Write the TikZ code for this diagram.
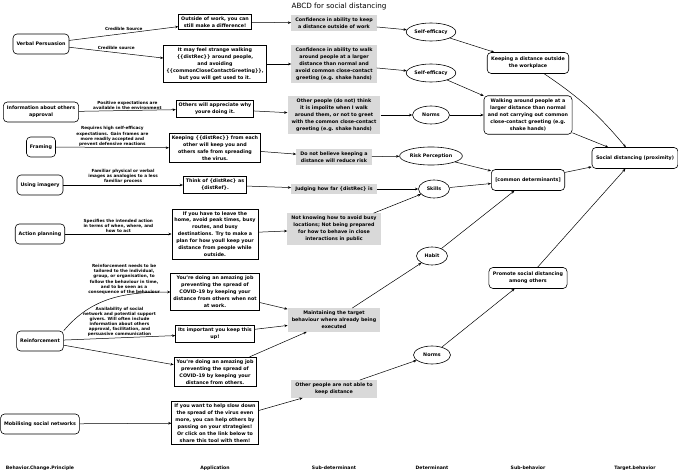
\documentclass[tikz,border=0pt]{standalone}
\usepackage{fontspec}
\setmainfont{DejaVu Sans}
\usetikzlibrary{arrows.meta,shapes.geometric}

\begin{document}
\begin{tikzpicture}[x=1pt,y=-1pt,
  font=\fontsize{4.8}{6.9}\selectfont\bfseries,
  principle/.style={draw=black,line width=0.6pt,rounded corners=4pt,align=center,inner xsep=3.5pt,minimum height=20pt},
  app/.style={draw=black,line width=0.8pt,align=center,inner sep=2.5pt},
  subdet/.style={fill=gray!30,align=center,inner xsep=4pt,inner ysep=3pt},
  det/.style={draw=black,line width=0.6pt,ellipse,inner sep=1pt,minimum width=31pt,minimum height=18pt},
  subbeh/.style={draw=black,line width=0.6pt,rounded corners=4pt,align=center,inner xsep=4pt,minimum height=21pt},
  lbl/.style={font=\fontsize{4.2}{5.1}\selectfont\bfseries,align=center,above,inner sep=1pt},
  colhead/.style={font=\fontsize{4.6}{6}\selectfont\bfseries},
  arr/.style={-{Stealth[length=3.2pt,width=2.6pt]},line width=0.5pt}]
  \useasboundingbox (0,0) rectangle (678,473);

  \node[font=\fontsize{7.2}{8}\selectfont\mdseries] (title) at (339,7) {ABCD for social distancing};

  % behaviour change principles
  \node[principle] (vp) at (41,44) {Verbal Persuasion};
  \node[principle] (info) at (41,112) {Information about others\\approval};
  \node[principle] (fram) at (41,147) {Framing};
  \node[principle] (imag) at (40,185) {Using imagery};
  \node[principle] (plan) at (40,234) {Action planning};
  \node[principle] (reinf) at (40,341) {Reinforcement};
  \node[principle] (mobil) at (40,424) {Mobilising social networks};

  % applications
  \node[app] (a1) at (215,22) {Outside of work, you can\\still make a difference!};
  \node[app] (a2) at (215,64) {It may feel strange walking\\\{\{distRec\}\} around people,\\and avoiding\\\{\{commonCloseContactGreeting\}\},\\but you will get used to it.};
  \node[app] (a3) at (215,109) {Others will appreciate why\\youre doing it.};
  \node[app] (a4) at (215,148) {Keeping \{\{distRec\}\} from each\\other will keep you and\\others safe from spreading\\the virus.};
  \node[app] (a5) at (215,185) {Think of \{distRec\} as\\\{distRef\}.};
  \node[app] (a6) at (215,234) {If you have to leave the\\home, avoid peak times, busy\\routes, and busy\\destinations. Try to make a\\plan for how youll keep your\\distance from people while\\outside.};
  \node[app] (a7) at (215,292) {You're doing an amazing job\\preventing the spread of\\COVID-19 by keeping your\\distance from others when not\\at work.};
  \node[app] (a8) at (215,334) {Its important you keep this\\up!};
  \node[app] (a9) at (215,372) {You're doing an amazing job\\preventing the spread of\\COVID-19 by keeping your\\distance from others.};
  \node[app] (a10) at (215,423) {If you want to help slow down\\the spread of the virus even\\more, you can help others by\\passing on your strategies!\\Or click on the link below to\\share this tool with them!};

  % sub-determinants
  \node[subdet] (s1) at (334,23) {Confidence in ability to keep\\a distance outside of work};
  \node[subdet] (s2) at (334,64) {Confidence in ability to walk\\around people at a larger\\distance than normal and\\avoid common close-contact\\greeting (e.g. shake hands)};
  \node[subdet] (s3) at (334,115) {Other people (do not) think\\it is impolite when I walk\\around them, or not to greet\\with the common close-contact\\greeting (e.g. shake hands)};
  \node[subdet] (s4) at (334,157) {Do not believe keeping a\\distance will reduce risk};
  \node[subdet] (s5) at (334,189) {Judging how far \{distRec\} is};
  \node[subdet] (s6) at (334,229) {Not knowing how to avoid busy\\locations; Not being prepared\\for how to behave in close\\interactions in public};
  \node[subdet] (s7) at (334,320) {Maintaining the target\\behaviour where already being\\executed};
  \node[subdet] (s8) at (334,389) {Other people are not able to\\keep distance};

  % determinants
  \node[det] (d1) at (431,32) {Self-efficacy};
  \node[det] (d2) at (431,73) {Self-efficacy};
  \node[det,minimum width=37pt] (d3) at (431,115) {Norms};
  \node[det] (d4) at (431,156) {Risk Perception};
  \node[det] (d5) at (434,189) {Skills};
  \node[det] (d6) at (432,256) {Habit};
  \node[det,minimum width=37pt] (d7) at (432,355) {Norms};

  % sub-behaviours and target
  \node[subbeh] (b1) at (528,63) {Keeping a distance outside\\the workplace};
  \node[subbeh] (b2) at (528,115) {Walking around people at a\\larger distance than normal\\and not carrying out common\\close-contact greeting (e.g.\\shake hands)};
  \node[subbeh] (b3) at (528,180) {[common determinants]};
  \node[subbeh] (b4) at (528,278) {Promote social distancing\\among others};
  \node[subbeh] (tb) at (635,158) {Social distancing (proximity)};

  % column headings
  \node[colhead] (h1) at (40,468) {Behavior.Change.Principle};
  \node[colhead] (h2) at (215,468) {Application};
  \node[colhead] (h3) at (334,468) {Sub-determinant};
  \node[colhead] (h4) at (432,468) {Determinant};
  \node[colhead] (h5) at (528,468) {Sub-behavior};
  \node[colhead] (h6) at (635,468) {Target.behavior};

  % principle -> application
  \path[arr] (vp) edge node[lbl,yshift=2pt] {Credible Source} (a1);
  \path[arr] (vp) edge node[lbl,yshift=2pt] {Credible source} (a2);
  \path[arr] (info) edge node[lbl] {Positive expectations are\\available in the environment} (a3);
  \path[arr] (fram) edge node[lbl] {Requires high self-efficacy\\expectations. Gain frames are\\more readily accepted and\\prevent defensive reactions} (a4);
  \path[arr] (imag) edge node[lbl] {Familiar physical or verbal\\images as analogies to a less\\familiar process} (a5);
  \path[arr] (plan) edge node[lbl] {Specifies the intended action\\in terms of when, where, and\\how to act} (a6);
  \path[arr] (reinf.north east) edge[out=50,in=180] node[lbl,pos=0.62] {Reinforcement needs to be\\tailored to the individual,\\group, or organisation, to\\follow the behaviour in time,\\and to be seen as a\\consequence of the behaviour} (a7);
  \path[arr] (reinf) edge node[lbl] {Availability of social\\network and potential support\\givers. Will often include\\information about others\\approval, facilitation, and\\persuasive communication} (a8);
  \path[arr] (reinf) edge (a9);
  \path[arr] (mobil) edge (a10);

  % application -> sub-determinant
  \path[arr] (a1) edge (s1);
  \path[arr] (a2) edge (s2);
  \path[arr] (a3) edge (s3);
  \path[arr] (a4) edge (s4);
  \path[arr] (a5) edge (s5);
  \path[arr] (a6) edge (s6);
  \path[arr] (a7) edge (s7);
  \path[arr] (a8) edge (s7);
  \path[arr] (a9) edge (s7);
  \path[arr] (a10) edge (s8);

  % sub-determinant -> determinant
  \path[arr] (s1) edge (d1);
  \path[arr] (s2) edge (d2);
  \path[arr] (s3) edge (d3);
  \path[arr] (s4) edge (d4);
  \path[arr] (s5) edge (d5);
  \path[arr] (s6) edge (d5);
  \path[arr] (s7) edge (d6);
  \path[arr] (s8) edge (d7);

  % determinant -> sub-behaviour
  \path[arr] (d1) edge (b1);
  \path[arr] (d2) edge (b2);
  \path[arr] (d3) edge (b2);
  \path[arr] (d4) edge (b3);
  \path[arr] (d5) edge (b3);
  \path[arr] (d6) edge (b3);
  \path[arr] (d7) edge (b4);

  % sub-behaviour -> target
  \path[arr] (b1) edge[bend left=8] (tb);
  \path[arr] (b2) edge (tb);
  \path[arr] (b3) edge (tb);
  \path[arr] (b4) edge (tb);
\end{tikzpicture}
\end{document}
